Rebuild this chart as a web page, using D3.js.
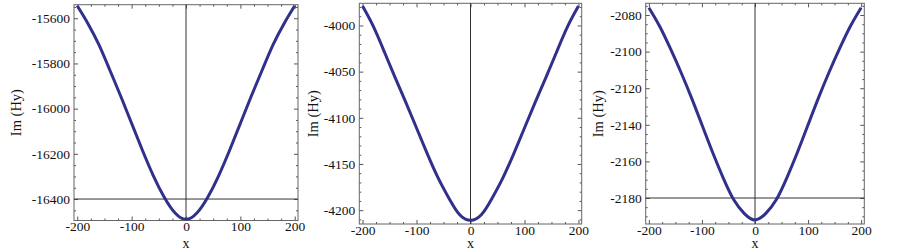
<!DOCTYPE html>
<html>
<head>
<meta charset="utf-8">
<script src="https://cdn.jsdelivr.net/npm/d3@7"></script>
<style>
body { margin: 0; background: #fff; }
text { font-family: "Liberation Serif", "Times New Roman", serif; fill: #111; }
</style>
</head>
<body>
<div id="chart"></div>
<script>
var w = 902, h = 252;

// x samples shared by the three panels
var xs = [-200, -180, -160, -140, -120, -100, -80, -60, -40, -20, 0, 20, 40, 60, 80, 100, 120, 140, 160, 180, 200];

// Im(Hy), one array per panel
var im1 = [-15545, -15625, -15718, -15830, -15945, -16065, -16185, -16297, -16392, -16462, -16490,
           -16462, -16392, -16297, -16185, -16065, -15945, -15830, -15718, -15625, -15545];
var im2 = [-3979, -4001, -4028, -4056, -4083, -4111, -4139, -4165, -4187, -4205, -4211,
           -4205, -4187, -4165, -4139, -4111, -4083, -4056, -4028, -4001, -3979];
var im3 = [-2076, -2086, -2098, -2111, -2125, -2140, -2155, -2169, -2181, -2188.5, -2192,
           -2188.5, -2181, -2169, -2155, -2140, -2125, -2111, -2098, -2086, -2076];

var xTicks = [-200, -100, 0, 100, 200];
var yTicks1 = [-16400, -16200, -16000, -15800, -15600];
var yTicks2 = [-4200, -4150, -4100, -4050, -4000];
var yTicks3 = [-2180, -2160, -2140, -2120, -2100, -2080];

var panels = [
  {vals: im1, yDom: [-16495, -15540], yTicks: yTicks1, yMinor: 50, hline: -16400,
   box: {left: 74, right: 298, top: 4.7, bottom: 220.5}, labelX: 16},
  {vals: im2, yDom: [-4215, -3976], yTicks: yTicks2, yMinor: 10, hline: null,
   box: {left: 359.3, right: 581.7, top: 3.3, bottom: 224}, labelX: 313},
  {vals: im3, yDom: [-2194.2, -2073.6], yTicks: yTicks3, yMinor: 5, hline: -2180,
   box: {left: 645.7, right: 864.3, top: 3.3, bottom: 224}, labelX: 598}
];

var svg = d3.select("#chart").append("svg")
            .attr("width", w)
            .attr("height", h);

var fmt = function(d) { return String(d); };

panels.forEach(function(p, i) {
  var b = p.box;
  var x = d3.scaleLinear().domain([-206, 206]).range([b.left, b.right]);
  var y = d3.scaleLinear().domain(p.yDom).range([b.bottom, b.top]);

  var g = svg.append("g");

  var clipId = "clip" + i;
  g.append("clipPath").attr("id", clipId)
   .append("rect")
   .attr("x", b.left).attr("y", b.top)
   .attr("width", b.right - b.left).attr("height", b.bottom - b.top);

  //minor tick values
  var xMinor = d3.range(-200, 201, 25).filter(function(v) { return xTicks.indexOf(v) < 0; });
  var yMinor = d3.range(Math.ceil(p.yDom[0] / p.yMinor) * p.yMinor, p.yDom[1], p.yMinor)
                 .filter(function(v) { return p.yTicks.indexOf(v) < 0; });

  //Axes on all four sides, ticks pointing inward
  var axes = [
    {ax: d3.axisBottom(x), tr: "translate(0," + b.bottom + ")", maj: xTicks, min: xMinor, lab: true, pad: 1},
    {ax: d3.axisTop(x), tr: "translate(0," + b.top + ")", maj: xTicks, min: xMinor, lab: false, pad: 1},
    {ax: d3.axisLeft(y), tr: "translate(" + b.left + ",0)", maj: p.yTicks, min: yMinor, lab: true, pad: 4},
    {ax: d3.axisRight(y), tr: "translate(" + b.right + ",0)", maj: p.yTicks, min: yMinor, lab: false, pad: 4}
  ];
  axes.forEach(function(a) {
    var major = a.ax.tickValues(a.maj).tickSizeInner(-4).tickSizeOuter(0).tickPadding(a.pad)
                    .tickFormat(a.lab ? fmt : function() { return ""; });
    var ga = g.append("g").attr("transform", a.tr).call(major);
    ga.select(".domain").remove();
    ga.selectAll("line").attr("stroke", "#555");
    ga.selectAll("text").style("font-size", "13.5px").attr("fill", "#111")
      .style("font-family", "'Liberation Serif', serif");

    var minorAx = a.ax.tickValues(a.min).tickSizeInner(-2).tickFormat(function() { return ""; });
    var gm = g.append("g").attr("transform", a.tr).call(minorAx);
    gm.select(".domain").remove();
    gm.selectAll("line").attr("stroke", "#555");
  });

  //frame
  g.append("rect")
   .attr("x", b.left).attr("y", b.top)
   .attr("width", b.right - b.left).attr("height", b.bottom - b.top)
   .attr("fill", "none").attr("stroke", "#666").attr("stroke-width", 1);

  //zero axis lines
  g.append("line")
   .attr("x1", x(0)).attr("x2", x(0)).attr("y1", b.top).attr("y2", b.bottom)
   .attr("stroke", "#333").attr("stroke-width", 1);
  if (p.hline !== null) {
    g.append("line")
     .attr("x1", b.left).attr("x2", b.right).attr("y1", y(p.hline)).attr("y2", y(p.hline))
     .attr("stroke", "#333").attr("stroke-width", 1);
  }

  //curve
  var line = d3.line()
               .x(function(d) { return x(d[0]); })
               .y(function(d) { return y(d[1]); })
               .curve(d3.curveNatural);
  g.append("path")
   .datum(d3.zip(xs, p.vals))
   .attr("clip-path", "url(#" + clipId + ")")
   .attr("d", line)
   .attr("fill", "none")
   .attr("stroke", "#31318c")
   .attr("stroke-width", 3);

  //axis labels
  g.append("text")
   .attr("x", (b.left + b.right) / 2)
   .attr("y", 243.5)
   .attr("text-anchor", "middle")
   .attr("dominant-baseline", "central")
   .style("font-size", "14px")
   .text("x");
  g.append("text")
   .attr("transform", "translate(" + p.labelX + "," + ((b.top + b.bottom) / 2) + ") rotate(-90)")
   .attr("text-anchor", "middle")
   .attr("dominant-baseline", "central")
   .style("font-size", "14.5px")
   .text("Im (Hy)");
});
</script>
</body>
</html>
